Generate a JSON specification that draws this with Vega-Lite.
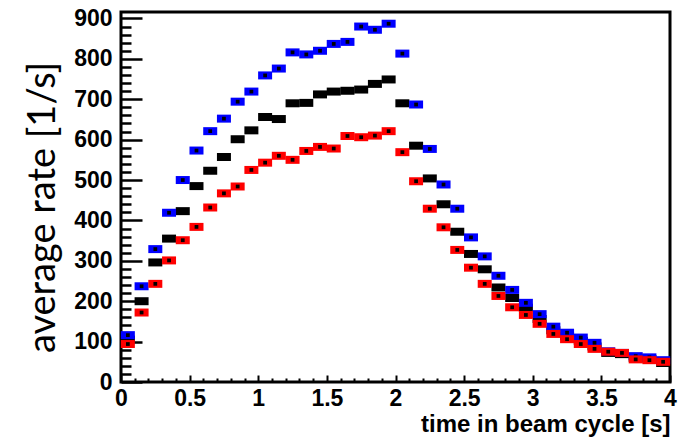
{
  "$schema": "https://vega.github.io/schema/vega-lite/v6.json",
  "width": 549,
  "height": 370,
  "autosize": "none",
  "padding": {"left": 121, "top": 12, "right": 10, "bottom": 57},
  "background": "white",
  "config": {
    "view": {"stroke": "black", "strokeWidth": 3},
    "axis": {"domain": false, "grid": false, "tickColor": "black", "labelColor": "black", "titleColor": "black"}
  },
  "datasets": {
    "rates": [
      {"t":0.05,"s":"black","r":105},{"t":0.15,"s":"black","r":200},{"t":0.25,"s":"black","r":296},{"t":0.35,"s":"black","r":355},{"t":0.45,"s":"black","r":423},
      {"t":0.55,"s":"black","r":485},{"t":0.65,"s":"black","r":523},{"t":0.75,"s":"black","r":557},{"t":0.85,"s":"black","r":601},{"t":0.95,"s":"black","r":623},
      {"t":1.05,"s":"black","r":656},{"t":1.15,"s":"black","r":651},{"t":1.25,"s":"black","r":690},{"t":1.35,"s":"black","r":691},{"t":1.45,"s":"black","r":712},
      {"t":1.55,"s":"black","r":719},{"t":1.65,"s":"black","r":721},{"t":1.75,"s":"black","r":724},{"t":1.85,"s":"black","r":738},{"t":1.95,"s":"black","r":749},
      {"t":2.05,"s":"black","r":690},{"t":2.15,"s":"black","r":585},{"t":2.25,"s":"black","r":504},{"t":2.35,"s":"black","r":440},{"t":2.45,"s":"black","r":372},
      {"t":2.55,"s":"black","r":317},{"t":2.65,"s":"black","r":279},{"t":2.75,"s":"black","r":234},{"t":2.85,"s":"black","r":208},{"t":2.95,"s":"black","r":184},
      {"t":3.05,"s":"black","r":156},{"t":3.15,"s":"black","r":128},{"t":3.25,"s":"black","r":114},{"t":3.35,"s":"black","r":102},{"t":3.45,"s":"black","r":88},
      {"t":3.55,"s":"black","r":72},{"t":3.65,"s":"black","r":69},{"t":3.75,"s":"black","r":60},{"t":3.85,"s":"black","r":57},{"t":3.95,"s":"black","r":47},
      {"t":0.05,"s":"blue","r":116},{"t":0.15,"s":"blue","r":237},{"t":0.25,"s":"blue","r":329},{"t":0.35,"s":"blue","r":419},{"t":0.45,"s":"blue","r":500},
      {"t":0.55,"s":"blue","r":573},{"t":0.65,"s":"blue","r":621},{"t":0.75,"s":"blue","r":652},{"t":0.85,"s":"blue","r":694},{"t":0.95,"s":"blue","r":719},
      {"t":1.05,"s":"blue","r":759},{"t":1.15,"s":"blue","r":776},{"t":1.25,"s":"blue","r":816},{"t":1.35,"s":"blue","r":811},{"t":1.45,"s":"blue","r":820},
      {"t":1.55,"s":"blue","r":837},{"t":1.65,"s":"blue","r":842},{"t":1.75,"s":"blue","r":880},{"t":1.85,"s":"blue","r":872},{"t":1.95,"s":"blue","r":887},
      {"t":2.05,"s":"blue","r":813},{"t":2.15,"s":"blue","r":687},{"t":2.25,"s":"blue","r":577},{"t":2.35,"s":"blue","r":489},{"t":2.45,"s":"blue","r":429},
      {"t":2.55,"s":"blue","r":358},{"t":2.65,"s":"blue","r":311},{"t":2.75,"s":"blue","r":263},{"t":2.85,"s":"blue","r":228},{"t":2.95,"s":"blue","r":196},
      {"t":3.05,"s":"blue","r":168},{"t":3.15,"s":"blue","r":137},{"t":3.25,"s":"blue","r":122},{"t":3.35,"s":"blue","r":110},{"t":3.45,"s":"blue","r":97},
      {"t":3.55,"s":"blue","r":76},{"t":3.65,"s":"blue","r":72},{"t":3.75,"s":"blue","r":64},{"t":3.85,"s":"blue","r":61},{"t":3.95,"s":"blue","r":54},
      {"t":0.05,"s":"red","r":94},{"t":0.15,"s":"red","r":172},{"t":0.25,"s":"red","r":243},{"t":0.35,"s":"red","r":301},{"t":0.45,"s":"red","r":351},
      {"t":0.55,"s":"red","r":384},{"t":0.65,"s":"red","r":432},{"t":0.75,"s":"red","r":467},{"t":0.85,"s":"red","r":484},{"t":0.95,"s":"red","r":525},
      {"t":1.05,"s":"red","r":543},{"t":1.15,"s":"red","r":560},{"t":1.25,"s":"red","r":550},{"t":1.35,"s":"red","r":572},{"t":1.45,"s":"red","r":582},
      {"t":1.55,"s":"red","r":578},{"t":1.65,"s":"red","r":609},{"t":1.75,"s":"red","r":606},{"t":1.85,"s":"red","r":610},{"t":1.95,"s":"red","r":621},
      {"t":2.05,"s":"red","r":569},{"t":2.15,"s":"red","r":497},{"t":2.25,"s":"red","r":429},{"t":2.35,"s":"red","r":383},{"t":2.45,"s":"red","r":327},
      {"t":2.55,"s":"red","r":283},{"t":2.65,"s":"red","r":243},{"t":2.75,"s":"red","r":213},{"t":2.85,"s":"red","r":185},{"t":2.95,"s":"red","r":166},
      {"t":3.05,"s":"red","r":144},{"t":3.15,"s":"red","r":119},{"t":3.25,"s":"red","r":106},{"t":3.35,"s":"red","r":94},{"t":3.45,"s":"red","r":82},
      {"t":3.55,"s":"red","r":75},{"t":3.65,"s":"red","r":72},{"t":3.75,"s":"red","r":56},{"t":3.85,"s":"red","r":54},{"t":3.95,"s":"red","r":50}
    ]
  },
  "data": {"name": "rates"},
  "layer": [
    {
      "transform": [{"filter": "datum.s === 'black'"}],
      "mark": {"type": "point", "filled": true, "opacity": 1, "shape": "M-1,-0.571L1,-0.571L1,0.571L-1,0.571Z", "size": 196, "color": "black"},
      "encoding": {
        "x": {"field": "t", "type": "quantitative", "scale": {"domain": [0, 4], "nice": false},
              "axis": {"orient": "bottom", "values": [0, 0.5, 1, 1.5, 2, 2.5, 3, 3.5, 4], "format": "~g", "tickSize": -7, "tickWidth": 2, "labelPadding": 12,
                       "labelFont": "Liberation Sans", "labelFontWeight": "bold", "labelFontSize": 23, "labelFlush": false,
                       "title": "time in beam cycle [s]", "titleFont": "Liberation Sans", "titleFontWeight": "bold", "titleFontSize": 24,
                       "titleAnchor": "end", "titleAlign": "right", "titleX": 549, "titleY": 42, "titleBaseline": "middle"}},
        "y": {"field": "r", "type": "quantitative", "scale": {"domain": [0, 916], "nice": false},
              "axis": {"orient": "left", "values": [0, 100, 200, 300, 400, 500, 600, 700, 800, 900], "tickSize": -21, "tickWidth": 2.5, "labelPadding": 30,
                       "labelFont": "Liberation Sans", "labelFontWeight": "bold", "labelFontSize": 23, "labelFlush": false,
                       "title": "average rate [1/s]", "titleFont": "Lato", "titleFontWeight": "normal", "titleFontSize": 38,
                       "titleAngle": 270, "titleX": -78, "titleY": 195, "titleAlign": "center", "titleBaseline": "middle"}}
      }
    },
    {
      "transform": [{"filter": "datum.s === 'blue'"}],
      "mark": {"type": "point", "filled": true, "opacity": 1, "shape": "M-1,-0.571L1,-0.571L1,0.571L-1,0.571Z", "size": 196, "color": "#0000ff"},
      "encoding": {
        "x": {"field": "t", "type": "quantitative",
              "axis": {"orient": "bottom", "values": [0.1,0.2,0.3,0.4,0.6,0.7,0.8,0.9,1.1,1.2,1.3,1.4,1.6,1.7,1.8,1.9,2.1,2.2,2.3,2.4,2.6,2.7,2.8,2.9,3.1,3.2,3.3,3.4,3.6,3.7,3.8,3.9],
                       "tickSize": -4, "tickWidth": 2, "labels": false, "title": null}},
        "y": {"field": "r", "type": "quantitative",
              "axis": {"orient": "left", "values": [20,40,60,80,120,140,160,180,220,240,260,280,320,340,360,380,420,440,460,480,520,540,560,580,620,640,660,680,720,740,760,780,820,840,860,880],
                       "tickSize": -10, "tickWidth": 2.5, "labels": false, "title": null}}
      }
    },
    {
      "transform": [{"filter": "datum.s === 'blue'"}],
      "mark": {"type": "point", "filled": true, "opacity": 1, "shape": "square", "size": 14, "color": "black"},
      "encoding": {
        "x": {"field": "t", "type": "quantitative", "axis": null},
        "y": {"field": "r", "type": "quantitative", "axis": null}
      }
    },
    {
      "transform": [{"filter": "datum.s === 'red'"}],
      "mark": {"type": "point", "filled": true, "opacity": 1, "shape": "M-1,-0.571L1,-0.571L1,0.571L-1,0.571Z", "size": 196, "color": "#ff0000"},
      "encoding": {
        "x": {"field": "t", "type": "quantitative", "axis": null},
        "y": {"field": "r", "type": "quantitative", "axis": null}
      }
    },
    {
      "transform": [{"filter": "datum.s === 'red'"}],
      "mark": {"type": "point", "filled": true, "opacity": 1, "shape": "square", "size": 14, "color": "black"},
      "encoding": {
        "x": {"field": "t", "type": "quantitative", "axis": null},
        "y": {"field": "r", "type": "quantitative", "axis": null}
      }
    }
  ],
  "resolve": {"axis": {"x": "independent", "y": "independent"}}
}
